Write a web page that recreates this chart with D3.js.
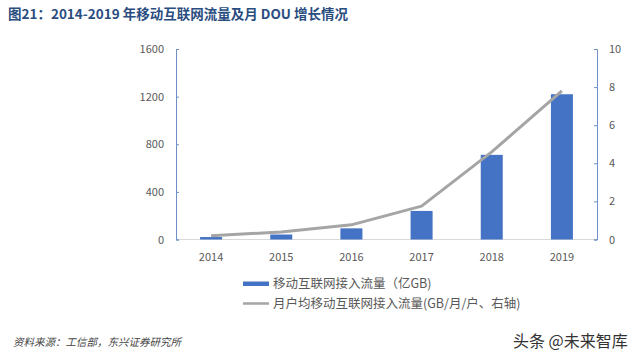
<!DOCTYPE html>
<html><head><meta charset="utf-8">
<script src="https://cdn.jsdelivr.net/npm/d3@7"></script>
<style>body{margin:0;background:#fff}svg{display:block}</style>
</head><body><svg id="c" width="640" height="360"></svg>
<script>
const years = ["2014","2015","2016","2017","2018","2019"];
const traffic = [20.6, 41.9, 93.6, 240, 711, 1220];
const dou = [0.2, 0.39, 0.77, 1.75, 4.6, 7.8];
const leftTicks = [0, 400, 800, 1200, 1600];
const rightTicks = [0, 2, 4, 6, 8, 10];
const titleText = "图21：2014-2019 年移动互联网流量及月 DOU 增长情况";
const legendLabels = ["移动互联网接入流量（亿GB)", "月户均移动互联网接入流量(GB/月/户、右轴)"];
const sourceText = "资料来源：工信部，东兴证券研究所";
const watermark = "头条 @未来智库";

const svg = d3.select("#c");
const font = "'Noto Sans CJK SC', 'Noto Sans', sans-serif";
const L = 176, R = 597, T = 49, B = 239.5;
const xc = d3.scalePoint().domain(years).range([L, R]).padding(0.5);
const yL = d3.scaleLinear().domain([0, 1600]).range([B, T]);
const yR = d3.scaleLinear().domain([0, 10]).range([B, T]);

svg.append("text").attr("x", 8).attr("y", 19).text(titleText)
  .attr("font-family", "'Noto Sans CJK SC', sans-serif").attr("font-weight", "bold")
  .attr("font-size", 13.5).attr("fill", "#2a4d7f");

svg.append("line").attr("x1", L).attr("x2", R).attr("y1", B).attr("y2", B)
  .attr("stroke", "#d9d9d9").attr("stroke-width", 1);

svg.selectAll("rect.bar").data(years).enter().append("rect").attr("class", "bar")
  .attr("x", d => xc(d) - 11).attr("width", 22)
  .attr("y", (d, i) => yL(traffic[i])).attr("height", (d, i) => B - yL(traffic[i]))
  .attr("fill", "#4472c4");

const line = d3.line().x((d, i) => xc(years[i])).y(d => yR(d));
svg.append("path").datum(dou).attr("d", line).attr("fill", "none")
  .attr("stroke", "#a5a5a5").attr("stroke-width", 3).attr("stroke-linejoin", "round");

const axL = svg.append("g").attr("transform", `translate(${L},0)`)
  .call(d3.axisRight(yL).tickValues(leftTicks).tickSize(3).tickFormat(""));
const axR = svg.append("g").attr("transform", `translate(${R},0)`)
  .call(d3.axisLeft(yR).tickValues(rightTicks).tickSize(3).tickFormat(""));
[axL, axR].forEach(a => { a.selectAll("path,line").attr("stroke", "#6f8fc7"); });

svg.selectAll("text.yl").data(leftTicks).enter().append("text")
  .attr("x", L - 12).attr("y", d => yL(d) + 4).attr("text-anchor", "end").text(d => d)
  .attr("font-family", font).attr("font-size", 11).attr("fill", "#595959");
svg.selectAll("text.yr").data(rightTicks).enter().append("text")
  .attr("x", R + 12).attr("y", d => yR(d) + 4).attr("text-anchor", "start").text(d => d)
  .attr("font-family", font).attr("font-size", 11).attr("fill", "#595959");
svg.selectAll("text.xl").data(years).enter().append("text")
  .attr("x", d => xc(d)).attr("y", 261).attr("text-anchor", "middle").text(d => d)
  .attr("font-family", font).attr("font-size", 11).attr("fill", "#595959");

svg.append("rect").attr("x", 243).attr("y", 281.5).attr("width", 26).attr("height", 4.5).attr("fill", "#4472c4");
svg.append("text").attr("x", 273).attr("y", 288).text(legendLabels[0])
  .attr("font-family", font).attr("font-size", 12.5).attr("fill", "#595959");
svg.append("line").attr("x1", 243).attr("x2", 269).attr("y1", 303.5).attr("y2", 303.5)
  .attr("stroke", "#a5a5a5").attr("stroke-width", 2.5);
svg.append("text").attr("x", 273).attr("y", 308).text(legendLabels[1])
  .attr("font-family", font).attr("font-size", 12.5).attr("fill", "#595959");

svg.append("text").attr("x", 13).attr("y", 346).text(sourceText)
  .attr("font-family", font).attr("font-size", 10.5).attr("font-style", "italic")
  .attr("fill", "#444");
svg.append("text").attr("x", 513).attr("y", 347).text(watermark)
  .attr("font-family", font).attr("font-size", 16).attr("fill", "#333");
</script></body></html>
